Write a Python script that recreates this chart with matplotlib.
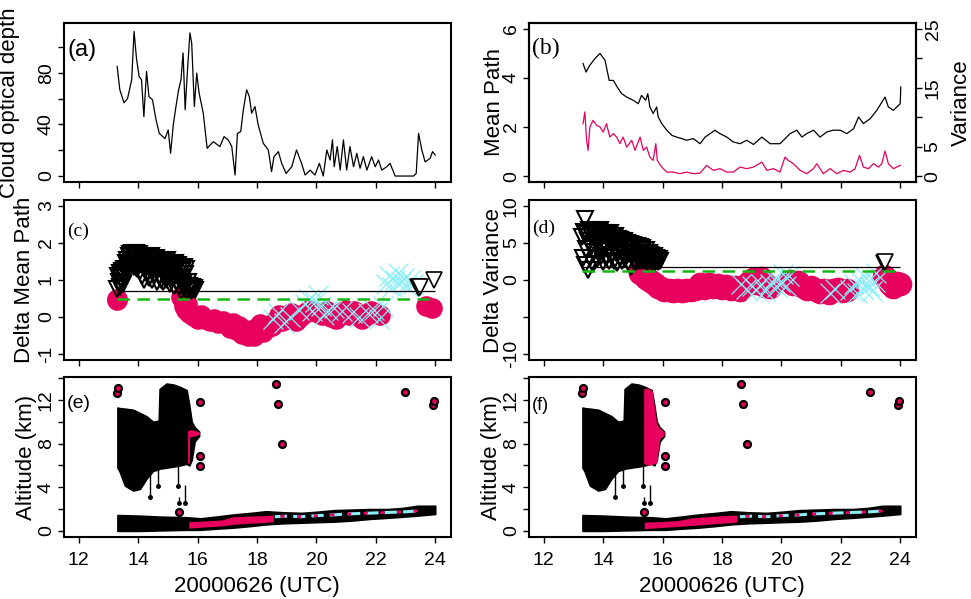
import matplotlib
matplotlib.use("Agg")
import matplotlib.pyplot as plt
import numpy as np

plt.rcParams["font.family"] = ["Liberation Sans", "DejaVu Sans"]

PINK = "#E8005E"
CYAN = "#8AEEF8"
GREEN = "#14B814"

XLIM = (11.5, 24.52)
XTICKS = [12, 14, 16, 18, 20, 22, 24]

# (a) cloud optical depth
tau_t = [13.29, 13.38, 13.52, 13.64, 13.78, 13.86, 13.94, 14.03, 14.11, 14.19,
         14.28, 14.36, 14.48, 14.60, 14.71, 14.90, 15.01, 15.09, 15.18, 15.27,
         15.36, 15.44, 15.51, 15.58, 15.66, 15.74, 15.80, 15.89, 15.97, 16.05,
         16.19, 16.32, 16.53, 16.75, 16.89, 17.03, 17.15, 17.26, 17.34, 17.45,
         17.54, 17.65, 17.74, 17.82, 17.93, 18.04, 18.21, 18.38, 18.49, 18.57,
         18.72, 18.83, 18.98, 19.17, 19.33, 19.50, 19.62, 19.79, 19.95, 20.10,
         20.23, 20.35, 20.46, 20.54, 20.60, 20.70, 20.80, 20.91, 21.02, 21.13,
         21.25, 21.36, 21.47, 21.58, 21.70, 21.86, 21.98, 22.09, 22.20, 22.37,
         22.48, 22.65, 23.27, 23.36, 23.44, 23.55, 23.66, 23.83, 23.91, 24.00]
tau_v = [84.9, 66.8, 56.7, 60.0, 74.6, 112.0, 91.4, 77.0, 74.6, 46.0,
         81.0, 61.6, 59.0, 43.5, 33.0, 29.0, 35.7, 17.6, 39.6, 53.8,
         66.8, 74.6, 95.3, 51.3, 82.3, 110.8, 103.0, 53.8, 79.7, 64.2,
         48.7, 21.5, 26.6, 22.8, 30.5, 28.0, 22.8, 0.8, 33.0, 34.4,
         51.3, 66.8, 61.6, 48.7, 53.8, 39.6, 25.4, 20.2, 3.4, 15.0,
         18.9, 9.8, 2.0, 7.2, 20.2, 9.8, 0.8, 4.6, 0.8, 9.8,
         0.0, 20.2, 12.4, 28.0, 7.2, 22.8, 4.6, 28.0, 4.6, 22.8,
         7.2, 17.6, 6.0, 15.0, 4.6, 15.0, 7.2, 12.4, 4.6, 7.2,
         9.8, 0.0, 0.0, 2.0, 33.0, 20.2, 11.0, 13.7, 18.9, 16.3]

# (b) mean path (left axis) and variance (right axis)
path_t = [13.32, 13.42, 13.55, 13.72, 13.89, 14.06, 14.20, 14.34, 14.47, 14.62,
          14.79, 15.01, 15.18, 15.29, 15.43, 15.50, 15.57, 15.68, 15.80, 15.85,
          15.97, 16.14, 16.31, 16.47, 16.64, 16.81, 17.03, 17.26, 17.43, 17.60,
          17.76, 17.93, 18.16, 18.38, 18.61, 18.83, 19.06, 19.34, 19.62, 19.95,
          20.07, 20.29, 20.52, 20.69, 20.85, 21.08, 21.30, 21.53, 21.75, 21.98,
          22.20, 22.43, 22.60, 22.76, 22.99, 23.21, 23.49, 23.60, 23.77, 24.00,
          24.02]
path_v = [4.59, 4.24, 4.52, 4.79, 5.00, 4.72, 3.90, 3.90, 3.63, 3.36,
          3.22, 3.09, 2.95, 3.29, 3.09, 3.36, 2.82, 2.55, 2.82, 2.41,
          2.14, 1.87, 1.66, 1.59, 1.53, 1.46, 1.53, 1.32, 1.59, 1.73,
          1.87, 1.73, 1.59, 1.39, 1.32, 1.46, 1.29, 1.59, 1.32, 1.32,
          1.46, 1.73, 1.87, 1.59, 1.73, 1.87, 1.59, 1.80, 1.87, 1.87,
          1.73, 1.93, 2.41, 2.14, 2.34, 2.68, 3.22, 2.82, 2.68, 2.95,
          3.63]
var_t = [13.32, 13.38, 13.44, 13.49, 13.55, 13.66, 13.78, 13.89, 14.00, 14.11,
         14.22, 14.34, 14.45, 14.56, 14.67, 14.79, 14.96, 15.07, 15.24, 15.35,
         15.46, 15.57, 15.68, 15.77, 15.82, 15.97, 16.14, 16.36, 16.58, 16.81,
         17.03, 17.26, 17.48, 17.71, 17.93, 18.16, 18.38, 18.61, 18.83, 19.06,
         19.34, 19.51, 19.73, 19.95, 20.12, 20.23, 20.40, 20.63, 20.85, 21.08,
         21.19, 21.41, 21.64, 21.87, 22.09, 22.31, 22.48, 22.63, 22.76, 22.93,
         23.10, 23.27, 23.38, 23.49, 23.60, 23.77, 24.00]
var_v = [8.90, 10.90, 6.07, 4.37, 8.33, 9.47, 8.62, 8.33, 7.48, 8.91,
         6.63, 7.21, 6.63, 5.51, 6.63, 4.93, 6.07, 4.37, 6.63, 4.37,
         4.93, 3.23, 2.67, 5.51, 2.67, 1.53, 0.68, 0.68, 0.41, 0.68,
         0.41, 0.51, 1.82, 0.97, 1.26, 0.68, 0.68, 1.53, 1.26, 1.53,
         2.38, 0.97, 1.26, 0.68, 3.23, 2.67, 2.11, 0.97, 0.41, 1.26,
         2.11, 0.41, 1.26, 0.41, 0.97, 0.68, 1.26, 3.52, 1.53, 1.26,
         2.11, 1.53, 2.11, 4.25, 2.11, 1.26, 1.82]

# (c) delta mean path; triangles sampled every 1.5 min from 13.30 UTC
TRI_START, TRI_STEP = 13.30, 0.025
c_tri_v = [0.75, 1.10, 0.95, 1.20, 0.80, 1.05, 1.25, 0.90, 1.15, 1.30,
           1.05, 1.45, 1.25, 1.55, 1.35, 1.65, 1.40, 1.70, 1.50, 1.72,
           1.55, 1.70, 1.35, 1.68, 1.50, 1.72, 1.30, 1.62, 1.45, 1.70,
           1.25, 1.55, 1.65, 1.10, 1.40, 1.60, 1.00, 1.30, 1.55, 1.45,
           1.20, 1.60, 1.35, 1.05, 1.50, 1.65, 1.25, 1.00, 1.45, 1.55,
           1.15, 1.40, 1.60, 0.95, 1.30, 1.50, 1.10, 1.55, 1.35, 1.00,
           1.45, 1.25, 0.95, 1.50, 1.20, 1.40, 1.00, 1.55, 1.30, 1.10,
           1.45, 0.90, 1.25, 1.40, 1.05, 1.30, 0.85, 1.45, 1.20, 1.35,
           0.95, 1.40, 1.15, 0.80, 1.30, 1.05, 0.70, 1.25, 0.90, 1.35,
           0.75, 1.15, 0.85, 1.30, 0.70, 0.95, 0.75, 0.85, 0.70, 0.80,
           0.72, 0.80, 0.75, 0.78, 0.72]
c_end_t = [23.42, 23.45, 23.48, 23.95]
c_end_v = [0.80, 0.78, 0.82, 1.00]
c_dot_t = [13.27, 13.30, 15.45, 15.50, 15.55, 15.60, 15.65, 15.70, 15.80, 15.90,
           16.00, 16.10, 16.25, 16.40, 16.55, 16.70, 16.85, 17.00, 17.10, 17.20,
           17.30, 17.40, 17.50, 17.60, 17.70, 17.80, 17.90, 18.00, 18.10, 18.20,
           18.35, 18.50, 18.60, 18.75, 18.85, 19.00, 19.15, 19.30, 19.45, 19.60,
           19.75, 19.90, 20.05, 20.20, 20.35, 20.50, 20.65, 20.80, 20.95, 21.10,
           21.25, 21.40, 21.55, 21.70, 21.85, 22.00, 22.15, 23.70, 23.90]
c_dot_v = [0.50, 0.45, 0.55, 0.45, 0.30, 0.20, 0.35, 0.10, 0.05, 0.00,
           -0.05, 0.05, -0.05, -0.10, -0.05, -0.15, -0.10, -0.20, -0.30, -0.15,
           -0.35, -0.25, -0.45, -0.40, -0.50, -0.35, -0.50, -0.30, -0.20, -0.40,
           -0.30, -0.25, -0.10, 0.05, -0.10, -0.05, 0.10, -0.10, 0.00, 0.10,
           0.20, 0.15, 0.10, 0.05, 0.15, 0.00, -0.05, 0.10, 0.20, 0.05,
           0.15, 0.10, -0.05, 0.05, 0.15, 0.10, 0.05, 0.30, 0.25]
c_x_t = [18.55, 18.70, 18.90, 19.10, 19.40, 19.60, 19.75, 19.85, 19.95, 20.05,
         20.15, 20.25, 20.40, 20.60, 20.85, 21.20, 21.45, 21.75, 21.95, 22.10,
         22.25, 22.35, 22.45, 22.55, 22.65, 22.75, 22.85, 22.95, 23.05, 23.15,
         23.25]
c_x_v = [-0.05, 0.10, -0.15, 0.00, 0.20, 0.35, 0.50, 0.15, 0.40, 0.60,
         0.30, 0.05, 0.20, 0.25, 0.15, 0.10, 0.00, 0.10, 0.20, -0.05,
         0.30, 0.90, 1.10, 0.80, 1.00, 1.20, 0.95, 1.05, 0.85, 1.00,
         0.90]
c_ref_solid, c_ref_dashed = 0.69, 0.49

# (d) delta variance
d_tri_v = [5.8, 3.0, 6.5, 2.0, 8.3, 4.2, 6.2, 1.3, 5.2, 6.7,
           3.0, 6.0, 4.5, 6.6, 2.2, 6.4, 3.8, 6.1, 5.2, 6.6,
           2.8, 5.6, 6.5, 4.1, 6.7, 3.2, 5.9, 6.3, 2.4, 6.0,
           4.5, 6.4, 3.0, 5.5, 6.2, 4.0, 2.5, 6.3, 5.2, 3.4,
           6.0, 4.8, 2.6, 5.7, 5.9, 3.6, 5.0, 2.3, 5.6, 4.4,
           3.0, 5.4, 4.6, 2.5, 5.2, 3.8, 5.3, 2.9, 4.8, 4.2,
           5.0, 2.4, 4.6, 3.5, 4.9, 1.8, 4.4, 3.2, 4.7, 2.6,
           4.5, 3.6, 2.4, 4.6, 3.0, 4.2, 2.5, 4.4, 3.4, 2.6,
           4.3, 3.0, 4.0, 2.5, 3.6, 2.8, 4.1, 2.4, 3.2, 3.6,
           2.5, 3.4, 2.8, 3.3, 2.4, 3.1, 2.6, 3.2, 2.4, 3.0,
           2.6, 2.9, 2.4, 2.8, 2.5]
d_end_t = [23.45, 23.50]
d_end_v = [2.3, 2.4]
d_dot_t = [15.25, 15.35, 15.45, 15.55, 15.65, 15.75, 15.85, 15.95, 16.05, 16.20,
           16.35, 16.50, 16.65, 16.80, 16.95, 17.10, 17.25, 17.40, 17.55, 17.70,
           17.85, 18.00, 18.15, 18.30, 18.45, 18.60, 18.75, 18.90, 19.05, 19.15,
           19.30, 19.45, 19.60, 20.30, 20.40, 20.55, 20.70, 20.85, 21.00, 21.15,
           21.30, 21.45, 21.60, 21.75, 21.90, 22.05, 22.20, 23.45, 23.55, 23.65,
           23.75, 23.90, 24.00]
d_dot_v = [1.0, 0.8, 0.3, 0.0, -0.3, -0.6, -0.9, -1.1, -1.3, -1.4,
           -1.5, -1.4, -1.5, -1.3, -1.4, -1.2, -0.6, -1.1, -0.5, -0.9,
           -0.7, -1.1, -0.8, -1.2, -1.0, -1.3, -0.8, -0.3, 0.2, -0.4,
           0.3, -0.8, -1.0, -0.2, -0.5, -0.3, -0.8, -1.2, -0.9, -1.4,
           -1.6, -1.3, -1.7, -1.4, -1.2, -1.5, -1.3, 0.6, 0.2, -0.6,
           -1.0, -0.4, -0.6]
d_x_t = [18.65, 18.80, 19.00, 19.15, 19.30, 19.45, 19.60, 19.75, 19.85, 19.95,
         20.05, 20.15, 20.25, 21.65, 21.80, 22.30, 22.45, 22.55, 22.65, 22.75,
         22.85, 22.95, 23.05, 23.15, 23.20]
d_x_v = [-0.5, -1.2, -0.8, -1.3, -0.5, -1.5, -0.6, 0.2, -1.0, -0.3,
         0.8, -0.8, 0.5, -1.8, -1.2, -1.4, -0.6, -1.8, -0.2, -1.2,
         0.3, -0.8, -1.5, -0.3, 0.9]
d_ref_solid, d_ref_dashed = 1.8, 1.16

# (e)/(f) cloud layers: upper cloud and boundary layer outlines (km)
cloud_t = [13.30, 13.38, 13.55, 13.83, 14.06, 14.28, 14.50, 14.69, 14.72, 14.95,
           15.20, 15.40, 15.63, 15.72, 15.80, 15.90, 16.05]
cloud_lo = [5.8, 5.4, 4.15, 3.7, 3.85, 4.8, 5.5, 5.65, 5.7, 5.8,
            5.9, 6.0, 6.15, 6.0, 6.5, 8.2, 8.7]
cloud_hi = [11.3, 11.25, 11.2, 11.1, 10.8, 10.5, 10.0, 10.1, 13.0, 13.5,
            13.4, 13.2, 12.9, 11.5, 10.0, 9.5, 9.1]
band_t = [13.30, 14.0, 14.8, 15.6, 16.1, 16.6, 17.2, 17.8, 18.3, 18.9,
          19.5, 20.0, 20.6, 21.2, 21.8, 22.4, 22.9, 23.4, 24.0]
band_lo = [0.0, 0.0, 0.05, 0.1, 0.1, 0.2, 0.3, 0.45, 0.6, 0.7,
           0.75, 0.8, 0.85, 0.95, 1.1, 1.2, 1.3, 1.4, 1.55]
band_hi = [1.45, 1.4, 1.3, 1.25, 1.15, 1.3, 1.5, 1.65, 1.8, 1.7,
           1.65, 1.75, 1.9, 1.95, 2.0, 2.0, 2.1, 2.3, 2.3]
drip_t = [14.38, 14.66, 15.34, 15.56, 15.36]
drip_lo = [3.1, 4.1, 4.1, 2.6, 2.6]
drip_hi = [5.6, 5.7, 6.0, 4.2, 3.1]
spot_t = [13.30, 13.32, 15.36, 16.08, 16.08, 16.08, 18.64, 18.70, 18.85, 22.98, 23.93, 23.96]
spot_v = [12.6, 13.1, 1.7, 11.85, 6.9, 5.95, 13.5, 11.6, 7.95, 12.7, 11.5, 11.9]
streak_t = [18.6, 19.0, 19.5, 20.0, 20.5, 21.0, 21.5, 22.0, 22.5, 23.0, 23.5]
streak_v = [1.3, 1.35, 1.3, 1.4, 1.45, 1.55, 1.6, 1.65, 1.7, 1.75, 1.85]

e_low_t = [15.70, 16.2, 16.8, 17.2, 17.7, 18.2, 18.55]
e_low_lo = [0.25, 0.35, 0.45, 0.6, 0.7, 0.75, 0.85]
e_low_hi = [0.85, 0.9, 1.0, 1.3, 1.35, 1.4, 1.45]
e_up_t = [15.66, 15.72, 15.73, 16.05]
e_up_lo = [6.2, 6.2, 8.6, 8.8]
e_up_hi = [9.2, 9.2, 9.3, 9.1]

f_low_t = [15.38, 15.9, 16.5, 17.0, 17.5, 18.0, 18.5]
f_low_lo = [0.2, 0.3, 0.4, 0.5, 0.6, 0.7, 0.8]
f_low_hi = [0.8, 0.85, 0.95, 1.2, 1.3, 1.4, 1.45]
f_up_t = [15.36, 15.50, 15.65, 15.80, 15.90, 16.05]
f_up_lo = [6.2, 6.0, 6.1, 6.2, 8.4, 8.8]
f_up_hi = [13.0, 13.1, 12.8, 9.8, 9.4, 9.1]

TICK_FS = 14
LABEL_FS = 16


def frame(ax, ylim, yticks, ylabels, xlabels=False):
    ax.set_xlim(XLIM)
    ax.set_ylim(ylim)
    ax.set_xticks(XTICKS)
    ax.set_yticks(yticks)
    ax.set_yticklabels(ylabels, rotation=90, va="center")
    ax.tick_params(direction="out", length=4.5, width=1.0, labelsize=TICK_FS, pad=2)
    ax.tick_params(axis="x", pad=6, labelbottom=xlabels)
    for s in ax.spines.values():
        s.set_linewidth(1.5)


def ylabel(ax, text, xpos):
    ax.set_ylabel(text, fontsize=LABEL_FS)
    ax.yaxis.set_label_coords(xpos, 0.5)
    ax.yaxis.label.set_verticalalignment("center")


def letter(ax, text, y, size, family="Liberation Sans"):
    ax.text(0.008, y, text, transform=ax.transAxes, fontsize=size,
            fontfamily=family, ha="left", va="center")


def delta_panel(ax, tri_v, end_t, end_v, dot_t, dot_v, x_t, x_v,
                solid, dashed, dot_s):
    tri_t = TRI_START + TRI_STEP * np.arange(len(tri_v))
    ax.scatter(dot_t, dot_v, s=dot_s, color=PINK, lw=0, zorder=2)
    ax.plot(x_t, x_v, ls="none", marker="x", ms=14, mew=0.9, color=CYAN, zorder=3)
    ax.plot(tri_t, tri_v, ls="none", marker="v", ms=12, mfc="none", mec="k",
            mew=1.5, zorder=4)
    ax.plot(end_t, end_v, ls="none", marker="v", ms=12, mfc="white", mec="k",
            mew=1.2, zorder=4)
    ax.hlines(solid, 13.29, 24.0, color="k", lw=0.9, zorder=5)
    ax.hlines(dashed, 13.29, 24.0, color=GREEN, lw=1.8, ls=(0, (5, 3)), zorder=5)


def altitude_panel(ax, low_t, low_lo, low_hi, up_t, up_lo, up_hi):
    ax.fill_between(cloud_t, cloud_lo, cloud_hi, color="k", lw=1.2)
    ax.fill_between(band_t, band_lo, band_hi, color="k", lw=1.2)
    ax.vlines(drip_t, drip_lo, drip_hi, color="k", lw=1.0)
    ax.plot(drip_t, drip_lo, ls="none", marker="o", ms=2.5, color="k")
    ax.fill_between(low_t, low_lo, low_hi, color=PINK, lw=0)
    ax.fill_between(up_t, up_lo, up_hi, color=PINK, lw=0)
    ax.plot(streak_t, streak_v, color=CYAN, lw=2.2, ls=(0, (4, 2)))
    ax.plot(streak_t, streak_v, color=PINK, lw=2.0, ls=(4, (1.5, 4.5)))
    ax.plot(spot_t, spot_v, ls="none", marker="o", ms=5, mfc=PINK, mec="k", mew=1.6)


fig = plt.figure(figsize=(9.71, 5.99), dpi=100)
LEFT_L, LEFT_R, W = 0.0659, 0.5448, 0.3982
ROWS = [(0.6962, 0.2654), (0.399, 0.2671), (0.1035, 0.2671)]

ax_a = fig.add_axes([LEFT_L, ROWS[0][0], W, ROWS[0][1]])
ax_b = fig.add_axes([LEFT_R, ROWS[0][0], W, ROWS[0][1]])
ax_c = fig.add_axes([LEFT_L, ROWS[1][0], W, ROWS[1][1]])
ax_d = fig.add_axes([LEFT_R, ROWS[1][0], W, ROWS[1][1]])
ax_e = fig.add_axes([LEFT_L, ROWS[2][0], W, ROWS[2][1]])
ax_f = fig.add_axes([LEFT_R, ROWS[2][0], W, ROWS[2][1]])

# (a)
ax_a.plot(tau_t, tau_v, color="k", lw=0.9)
frame(ax_a, (-4.6, 118.5), [0, 20, 40, 60, 80, 100], ["0", "", "40", "", "80", ""])
ylabel(ax_a, "Cloud optical depth", -0.14)
letter(ax_a, "(a)", 0.83, 17)

# (b)
ax_b.plot(path_t, path_v, color="k", lw=0.9)
frame(ax_b, (-0.24, 6.24), [0, 2, 4, 6], ["0", "2", "4", "6"])
ylabel(ax_b, "Mean Path", -0.09)
letter(ax_b, "(b)", 0.843, 17, "Liberation Serif")
ax_b2 = ax_b.twinx()
ax_b2.plot(var_t, var_v, color=PINK, lw=0.9)
ax_b2.set_ylim(-0.24 * 25 / 6, 6.24 * 25 / 6)
ax_b2.set_yticks([0, 5, 10, 15, 20, 25])
ax_b2.set_yticklabels(["0", "5", "", "15", "", "25"], rotation=90, va="center")
ax_b2.tick_params(direction="out", length=4.5, width=1.0, labelsize=TICK_FS, pad=2)
ax_b2.set_ylabel("Variance", fontsize=LABEL_FS, rotation=90)
ax_b2.yaxis.set_label_coords(1.119, 0.5)
ax_b2.yaxis.label.set_verticalalignment("center")
for s in ax_b2.spines.values():
    s.set_linewidth(1.5)

# (c)
delta_panel(ax_c, c_tri_v, c_end_t, c_end_v, c_dot_t, c_dot_v, c_x_t, c_x_v,
            c_ref_solid, c_ref_dashed, 220)
frame(ax_c, (-1.16, 3.16), [-1, 0, 1, 2, 3], ["-1", "0", "1", "2", "3"])
ylabel(ax_c, "Delta Mean Path", -0.103)
letter(ax_c, "(c)", 0.806, 14, "Liberation Serif")

# (d)
delta_panel(ax_d, d_tri_v, d_end_t, d_end_v, d_dot_t, d_dot_v, d_x_t, d_x_v,
            d_ref_solid, d_ref_dashed, 290)
frame(ax_d, (-10.8, 10.8), [-10, -5, 0, 5, 10], ["-10", "", "0", "5", "10"])
ylabel(ax_d, "Delta Variance", -0.093)
letter(ax_d, "(d)", 0.825, 14, "Liberation Serif")

# (e), (f)
alt_ticks = [0, 2, 4, 6, 8, 10, 12, 14]
alt_labels = ["0", "", "4", "", "8", "", "12", ""]
altitude_panel(ax_e, e_low_t, e_low_lo, e_low_hi, e_up_t, e_up_lo, e_up_hi)
frame(ax_e, (-0.56, 14.1), alt_ticks, alt_labels, xlabels=True)
ylabel(ax_e, "Altitude (km)", -0.098)
letter(ax_e, "(e)", 0.8375, 14)

altitude_panel(ax_f, f_low_t, f_low_lo, f_low_hi, f_up_t, f_up_lo, f_up_hi)
frame(ax_f, (-0.56, 14.1), alt_ticks, alt_labels, xlabels=True)
ylabel(ax_f, "Altitude (km)", -0.098)
letter(ax_f, "(f)", 0.825, 13)

for ax in (ax_e, ax_f):
    ax.set_xlabel("20000626 (UTC)", fontsize=LABEL_FS)
    ax.xaxis.set_label_coords(0.5, -0.31)
    ax.xaxis.label.set_verticalalignment("center")

fig.savefig("out.png", dpi=100)
